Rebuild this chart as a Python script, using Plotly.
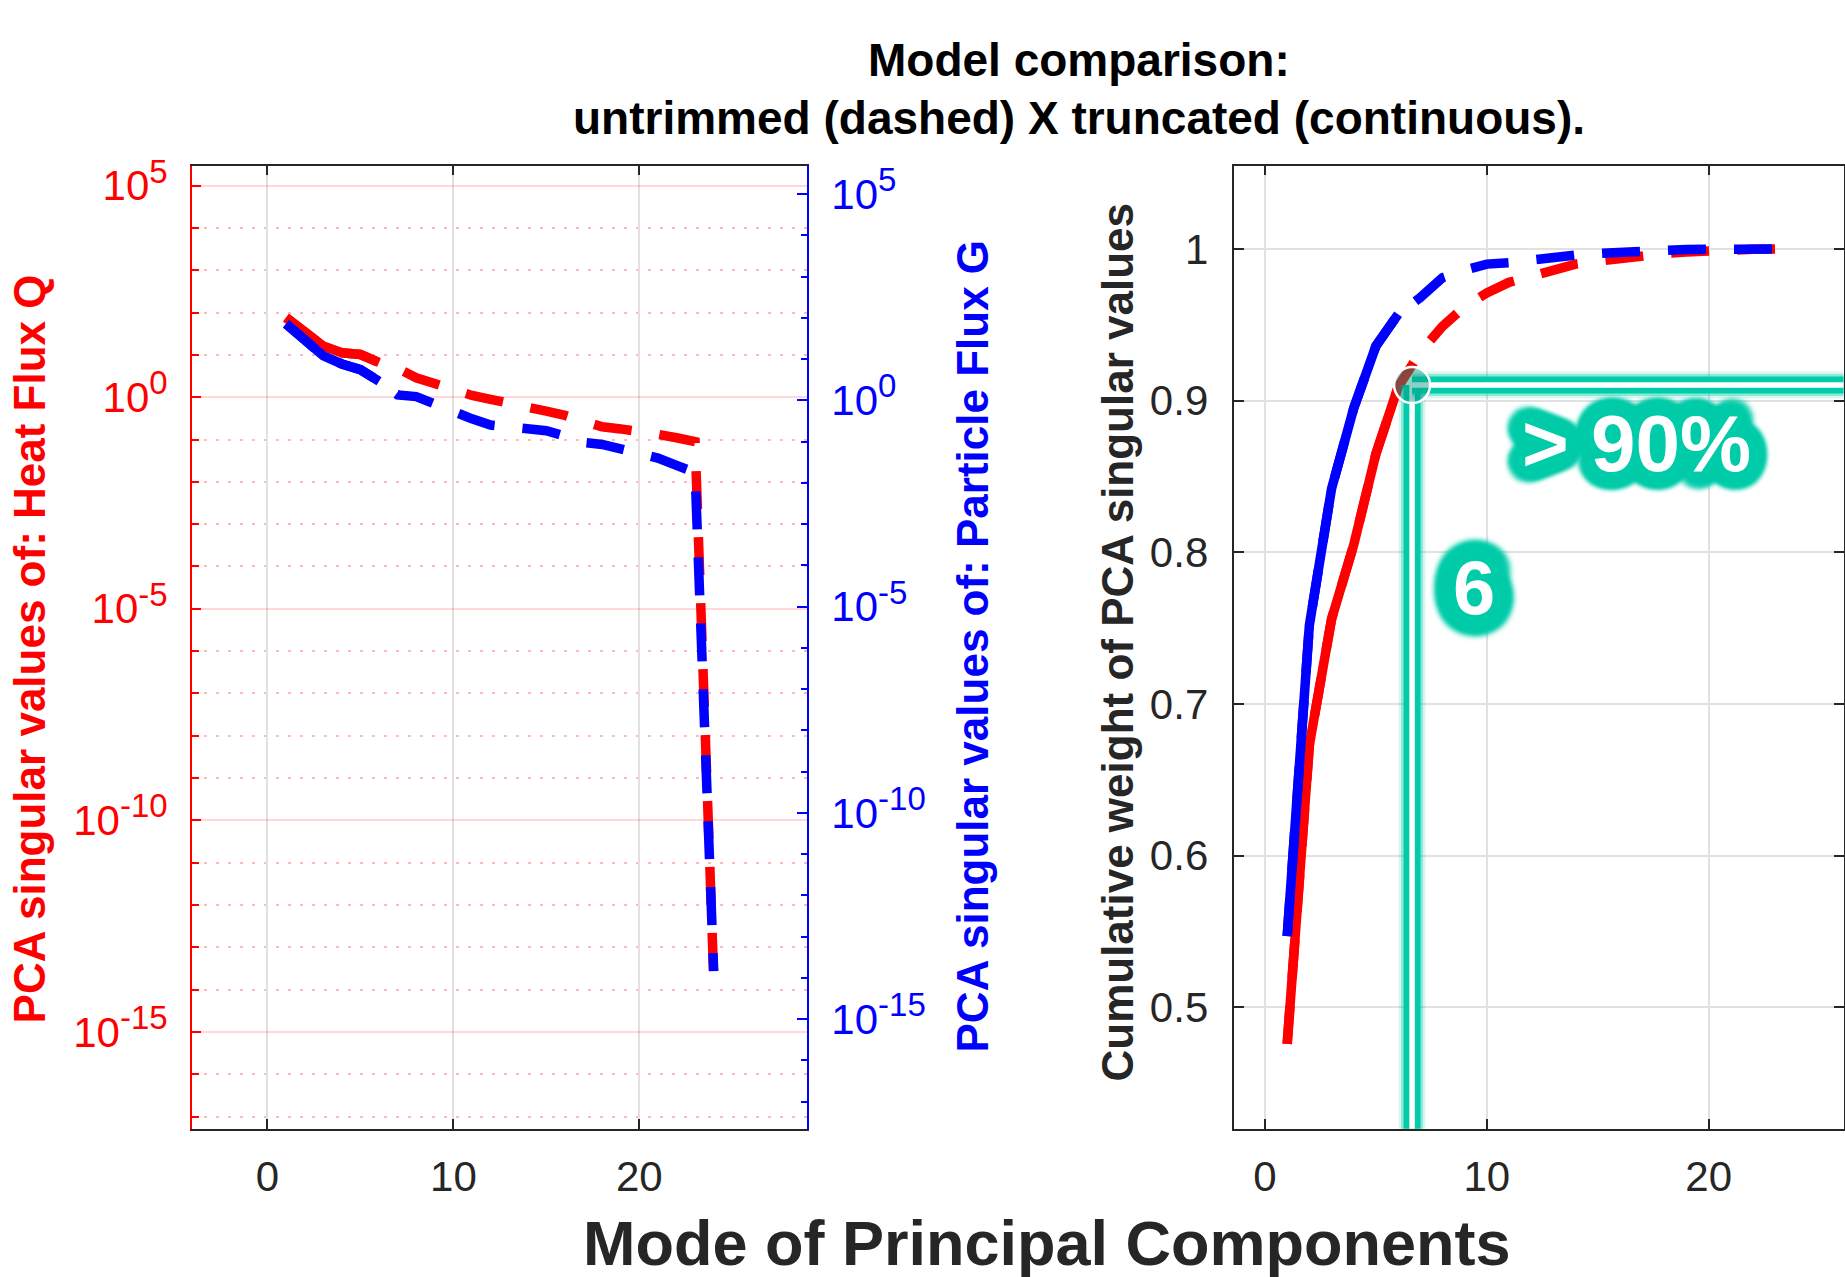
import math
import plotly.graph_objects as go

# ---------------- data ----------------
modes = list(range(1, 25))
modes_truncated = [1, 2, 3, 4, 5, 6]
modes_cumulative = list(range(1, 24))

# PCA singular values (left panel, log scale)
heat_sv = [75.9, 33.1, 16.2, 11.2, 10.2, 6.61, 4.79, 2.88, 2.00, 1.41, 1.10, 0.891,
           0.692, 0.550, 0.468, 0.372, 0.263, 0.200, 0.178, 0.162, 0.132, 0.110, 0.0891, 2.0e-14]
particle_sv = [70.8, 28.2, 12.0, 7.59, 5.50, 2.88, 1.35, 1.23, 0.794, 0.501, 0.355, 0.251,
               0.219, 0.200, 0.182, 0.135, 0.0955, 0.0851, 0.0661, 0.0501, 0.0398, 0.0263, 0.0178, 1.45e-14]
heat_sv_truncated = [75.9, 33.1, 16.2, 11.2, 10.2, 6.61]
particle_sv_truncated = [70.8, 28.2, 12.0, 7.59, 5.50, 2.88]

# cumulative weights (right panel)
cum_heat = [0.476, 0.673, 0.756, 0.805, 0.865, 0.909, 0.932, 0.949, 0.962, 0.971, 0.978, 0.982,
            0.986, 0.990, 0.992, 0.994, 0.995, 0.997, 0.998, 0.999, 0.9995, 0.9998, 1.0]
cum_particle = [0.547, 0.752, 0.842, 0.895, 0.936, 0.957, 0.968, 0.981, 0.986, 0.990, 0.991, 0.993,
                0.994, 0.996, 0.997, 0.998, 0.999, 0.9995, 0.9997, 0.9998, 0.9999, 1.0, 1.0]
cum_heat_truncated = [0.476, 0.673, 0.756, 0.805, 0.865, 0.909]
cum_particle_truncated = [0.547, 0.752, 0.842, 0.895, 0.936, 0.957]

threshold_x = 6.63
threshold_y = 0.9103
threshold_label = "6"
threshold_text = "> 90%"

log_tick_vals = [1e5, 1e0, 1e-5, 1e-10, 1e-15]
log_tick_exps = ["5", "0", "-5", "-10", "-15"]
x_tick_vals = [0, 10, 20]
cum_tick_vals = [0.5, 0.6, 0.7, 0.8, 0.9, 1.0]
cum_tick_text = ["0.5", "0.6", "0.7", "0.8", "0.9", "1"]

# ---------------- style ----------------
W, H = 1845, 1277
FONT = "Liberation Sans, Arial, Helvetica, sans-serif"
DARK = "#262626"
RED = "#FF0000"
BLUE = "#0000FF"
TEAL = "#00CCAA"
LW = 9.5
DASH = "38px,28px"
TICKF = 42


def px(x):
    return x / W


def py(y):
    return 1 - y / H


fig = go.Figure()

# left panel: untrimmed (dashed) then truncated (solid)
fig.add_trace(go.Scatter(x=modes, y=heat_sv, mode="lines", line=dict(color=RED, width=LW, dash=DASH),
                         xaxis="x", yaxis="y"))
fig.add_trace(go.Scatter(x=modes_truncated, y=heat_sv_truncated, mode="lines",
                         line=dict(color=RED, width=LW), xaxis="x", yaxis="y"))
fig.add_trace(go.Scatter(x=modes, y=particle_sv, mode="lines", line=dict(color=BLUE, width=LW, dash=DASH),
                         xaxis="x", yaxis="y2"))
fig.add_trace(go.Scatter(x=modes_truncated, y=particle_sv_truncated, mode="lines",
                         line=dict(color=BLUE, width=LW), xaxis="x", yaxis="y2"))

# right panel
fig.add_trace(go.Scatter(x=modes_cumulative, y=cum_heat, mode="lines",
                         line=dict(color=RED, width=LW, dash=DASH), xaxis="x2", yaxis="y3"))
fig.add_trace(go.Scatter(x=modes_truncated, y=cum_heat_truncated, mode="lines",
                         line=dict(color=RED, width=LW), xaxis="x2", yaxis="y3"))
fig.add_trace(go.Scatter(x=modes_cumulative, y=cum_particle, mode="lines",
                         line=dict(color=BLUE, width=LW, dash=DASH), xaxis="x2", yaxis="y3"))
fig.add_trace(go.Scatter(x=modes_truncated, y=cum_particle_truncated, mode="lines",
                         line=dict(color=BLUE, width=LW), xaxis="x2", yaxis="y3"))

ydom = [py(1127.3), py(154.1)]

minor_red = [10.0 ** k for k in range(-17, 6) if k % 5 != 0]
minor_blue = [10.0 ** k for k in range(-17, 6) if k % 5 != 0]


def logtext(e):
    return f"10<sup><span style='font-size:33px'>{e}</span></sup>"


common_x = dict(tickvals=x_tick_vals, ticks="inside", ticklen=10, tickwidth=1.5, tickcolor=DARK,
                showline=True, linecolor=DARK, linewidth=1.5, mirror="ticks",
                showgrid=True, gridcolor="#E1E1E1", gridwidth=1.5, zeroline=False,
                tickfont=dict(family=FONT, size=TICKF, color=DARK), ticklabelstandoff=10)

fig.update_layout(
    width=W, height=H, autosize=False,
    margin=dict(l=0, r=0, t=0, b=0, pad=0),
    paper_bgcolor="white", plot_bgcolor="white", showlegend=False,
    xaxis=dict(domain=[px(191.8), px(807.2)], range=[-4.07, 29.03], anchor="y", **common_x),
    yaxis=dict(domain=ydom, type="log", range=[-17.29, 5.475], anchor="x",
               tickvals=log_tick_vals, ticktext=[logtext(e) for e in log_tick_exps],
               ticks="inside", ticklen=9, tickwidth=1.5, tickcolor=RED,
               showline=True, linecolor=RED, linewidth=1.5, mirror=False,
               showgrid=True, gridcolor="rgba(255,0,0,0.15)", gridwidth=2, zeroline=False,
               tickfont=dict(family=FONT, size=TICKF, color=RED), ticklabelstandoff=14,
               minor=dict(tickvals=minor_red, ticks="inside", ticklen=7, tickwidth=1.5, tickcolor=RED,
                          showgrid=True, gridcolor="rgba(255,0,0,0.28)", gridwidth=2, griddash="3px,9px")),
    yaxis2=dict(domain=ydom, type="log", range=[-17.66, 5.69], anchor="x", overlaying="y", side="right",
                tickvals=log_tick_vals, ticktext=[logtext(e) for e in log_tick_exps],
                ticks="inside", ticklen=10, tickwidth=1.5, tickcolor=BLUE,
                showline=True, linecolor=BLUE, linewidth=1.5, showgrid=False, zeroline=False,
                tickfont=dict(family=FONT, size=TICKF, color=BLUE), ticklabelstandoff=14,
                minor=dict(tickvals=minor_blue, ticks="inside", ticklen=6, tickwidth=1.5, tickcolor=BLUE,
                           showgrid=False)),
    xaxis2=dict(domain=[px(1234.4), px(1843.5)], range=[-1.38, 26.08], anchor="y3", **common_x),
    yaxis3=dict(domain=ydom, range=[0.42, 1.055], anchor="x2",
                tickvals=cum_tick_vals, ticktext=cum_tick_text,
                ticks="inside", ticklen=10, tickwidth=1.5, tickcolor=DARK,
                showline=True, linecolor=DARK, linewidth=1.5, mirror="ticks",
                showgrid=True, gridcolor="#E1E1E1", gridwidth=1.5, zeroline=False,
                tickfont=dict(family=FONT, size=TICKF, color=DARK), ticklabelstandoff=16),
)

# ---- threshold annotation (teal double lines + circle) ----
shapes = []
for (x0, y0, x1, y1) in [(threshold_x, 0.3, threshold_x, threshold_y),
                         (threshold_x, threshold_y, 40, threshold_y)]:
    for w, c in [(27, "rgba(0,204,170,0.15)"), (22, "rgba(0,204,170,0.35)"), (17, TEAL), (5.5, "white")]:
        shapes.append(dict(type="line", xref="x2", yref="y3", x0=x0, y0=y0, x1=x1, y1=y1,
                           line=dict(color=c, width=w), layer="above"))
shapes.append(dict(type="circle", xref="x2", yref="y3", xsizemode="pixel", ysizemode="pixel",
                   xanchor=threshold_x, yanchor=threshold_y, x0=-18, x1=18, y0=-18, y1=18,
                   fillcolor="rgba(0,150,130,0.45)", line=dict(color="white", width=2.5), layer="above"))
fig.update_layout(shapes=shapes)


def glow(radii, blur):
    parts = []
    for r in radii:
        n = 20
        for i in range(n):
            a = 2 * math.pi * i / n
            parts.append(f"{r*math.cos(a):.1f}px {r*math.sin(a):.1f}px {blur}px {TEAL}")
    parts.append(f"0px 0px {blur*3}px {TEAL}")
    return ", ".join(parts)


annotations = [
    dict(text="<b>Model comparison:</b>", x=px(1079), y=py(47), xref="paper", yref="paper",
         showarrow=False, xanchor="center", yanchor="middle",
         font=dict(family=FONT, size=46, color="black")),
    dict(text="<b>untrimmed (dashed) X truncated (continuous).</b>", x=px(1079), y=py(106),
         xref="paper", yref="paper", showarrow=False, xanchor="center", yanchor="middle",
         font=dict(family=FONT, size=46, color="black")),
    dict(text="<b>Mode of Principal Components</b>", x=px(1047), y=py(1243), xref="paper", yref="paper",
         showarrow=False, xanchor="center", yanchor="middle",
         font=dict(family=FONT, size=63, color=DARK)),
    dict(text="<b>PCA singular values of: Heat Flux Q</b>", x=px(29), y=py(643), xref="paper", yref="paper",
         showarrow=False, textangle=-90, xanchor="center", yanchor="middle",
         font=dict(family=FONT, size=44, color=RED)),
    dict(text="<b>PCA singular values of: Particle Flux G</b>", x=px(972), y=py(640), xref="paper",
         yref="paper", showarrow=False, textangle=-90, xanchor="center", yanchor="middle",
         font=dict(family=FONT, size=44, color=BLUE)),
    dict(text="<b>Cumulative weight of PCA singular values</b>", x=px(1118), y=py(636), xref="paper",
         yref="paper", showarrow=False, textangle=-90, xanchor="center", yanchor="middle",
         font=dict(family=FONT, size=44, color=DARK)),
    dict(text=f"<b>{threshold_text}</b>", x=px(1636), y=py(435), xref="paper", yref="paper",
         showarrow=False, xanchor="center", yanchor="middle",
         font=dict(family=FONT, size=80, color="white", shadow=glow([6, 12, 17], 5))),
    dict(text=f"<b>{threshold_label}</b>", x=px(1474), y=py(580), xref="paper", yref="paper",
         showarrow=False, xanchor="center", yanchor="middle",
         font=dict(family=FONT, size=76, color="white", shadow=glow([7, 14, 20], 6))),
]
fig.update_layout(annotations=annotations)

fig.write_html("out.html")
